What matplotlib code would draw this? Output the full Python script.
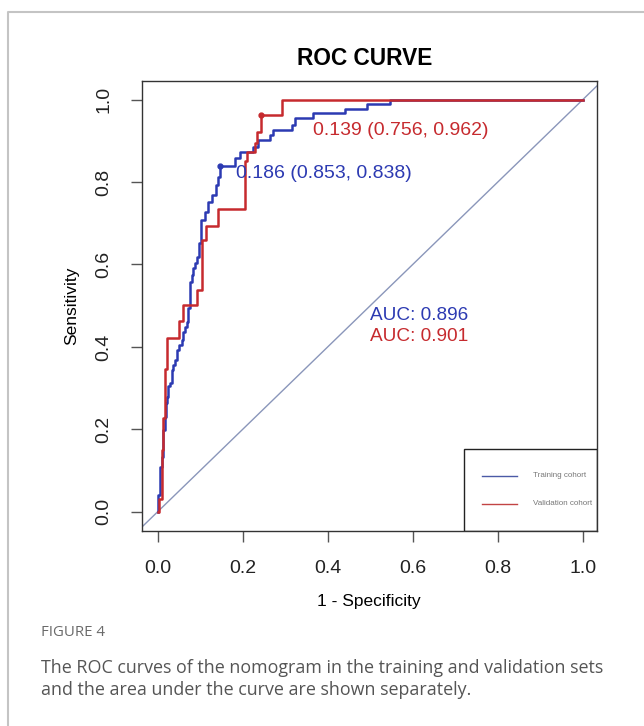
import numpy as np
import matplotlib
matplotlib.use("Agg")
import matplotlib.pyplot as plt
from matplotlib.lines import Line2D
from matplotlib.patches import Rectangle

# ROC step vertices (1 - specificity, sensitivity)
train_fpr = [0.000, 0.000, 0.005, 0.005, 0.009, 0.009, 0.013, 0.013, 0.017, 0.017,
             0.020, 0.020, 0.023, 0.023, 0.025, 0.025, 0.029, 0.029, 0.033, 0.033,
             0.037, 0.037, 0.041, 0.041, 0.045, 0.045, 0.051, 0.051, 0.056, 0.056,
             0.060, 0.060, 0.064, 0.064, 0.070, 0.070, 0.072, 0.072, 0.076, 0.076,
             0.080, 0.080, 0.082, 0.082, 0.088, 0.088, 0.092, 0.092, 0.096, 0.096,
             0.103, 0.103, 0.111, 0.111, 0.119, 0.119, 0.127, 0.127, 0.137, 0.137,
             0.143, 0.143, 0.147, 0.147, 0.182, 0.182, 0.194, 0.194, 0.225, 0.225,
             0.237, 0.237, 0.264, 0.264, 0.272, 0.272, 0.315, 0.315, 0.323, 0.323,
             0.366, 0.366, 0.441, 0.441, 0.492, 0.492, 0.547, 0.547, 1.000]
train_tpr = [0.000, 0.040, 0.040, 0.109, 0.109, 0.133, 0.133, 0.198, 0.198, 0.231,
             0.231, 0.263, 0.263, 0.279, 0.279, 0.304, 0.304, 0.312, 0.312, 0.344,
             0.344, 0.356, 0.356, 0.368, 0.368, 0.393, 0.393, 0.405, 0.405, 0.417,
             0.417, 0.437, 0.437, 0.449, 0.449, 0.461, 0.461, 0.494, 0.494, 0.558,
             0.558, 0.575, 0.575, 0.591, 0.591, 0.603, 0.603, 0.619, 0.619, 0.651,
             0.651, 0.708, 0.708, 0.728, 0.728, 0.752, 0.752, 0.769, 0.769, 0.793,
             0.793, 0.813, 0.813, 0.838, 0.838, 0.858, 0.858, 0.874, 0.874, 0.886,
             0.886, 0.902, 0.902, 0.914, 0.914, 0.927, 0.927, 0.939, 0.939, 0.955,
             0.955, 0.967, 0.967, 0.977, 0.977, 0.990, 0.990, 1.000, 1.000]

valid_fpr = [0.000, 0.003, 0.003, 0.009, 0.009, 0.012, 0.012, 0.016, 0.016, 0.023,
             0.023, 0.051, 0.051, 0.060, 0.060, 0.093, 0.093, 0.105, 0.105, 0.113,
             0.113, 0.141, 0.141, 0.205, 0.205, 0.211, 0.211, 0.229, 0.229, 0.234,
             0.234, 0.244, 0.244, 0.293, 0.293, 1.000]
valid_tpr = [0.000, 0.000, 0.032, 0.032, 0.150, 0.150, 0.227, 0.227, 0.346, 0.346,
             0.422, 0.422, 0.463, 0.463, 0.502, 0.502, 0.538, 0.538, 0.659, 0.659,
             0.694, 0.694, 0.734, 0.734, 0.850, 0.850, 0.874, 0.874, 0.894, 0.894,
             0.922, 0.922, 0.962, 0.962, 1.000, 1.000]

# best thresholds: (threshold, specificity, sensitivity)
train_best = (0.186, 0.853, 0.838)
valid_best = (0.139, 0.756, 0.962)
train_auc = 0.896
valid_auc = 0.901

labels = ["Training cohort", "Validation cohort"]
ticks = [0.0, 0.2, 0.4, 0.6, 0.8, 1.0]

blue = "#2c3ab2"
red = "#c62a2e"

plt.rcParams['font.family'] = ['Liberation Sans', 'DejaVu Sans']

fig = plt.figure(figsize=(6.44, 7.26), dpi=100)
ax = fig.add_axes([0.2200, 0.2690, 0.7066, 0.6195])

ax.set_xlim(-0.0377, 1.0329)
ax.set_ylim(-0.0461, 1.0454)

# chance line
ax.axline((0, 0), (1, 1), color="#8a96ba", lw=1)

ax.plot(train_fpr, train_tpr, color=blue, lw=1.8)
ax.plot(valid_fpr, valid_tpr, color=red, lw=1.8)

# best thresholds
ax.plot(1 - train_best[1], train_best[2], "o", color=blue, ms=3.5)
ax.plot(1 - valid_best[1], valid_best[2], "o", color=red, ms=3.5)
ax.text(1 - train_best[1] + 0.037, train_best[2] - 0.016,
        "%.3f (%.3f, %.3f)" % train_best, color=blue, fontsize=14, va="center")
ax.text(1 - valid_best[1] + 0.122, valid_best[2] - 0.038,
        "%.3f (%.3f, %.3f)" % valid_best, color=red, fontsize=14, va="center")

ax.text(0.50, 0.477, "AUC: %.3f" % train_auc, color=blue, fontsize=13.7, va="center")
ax.text(0.50, 0.424, "AUC: %.3f" % valid_auc, color=red, fontsize=13.7, va="center")

# legend box, bottom right like R's legend()
ax.add_patch(Rectangle((0.7084, 0.0), 0.2916, 0.181, transform=ax.transAxes,
                       fill=False, edgecolor="#222222", lw=1, zorder=5))
for c, lab, yy in zip(["#4b5aa6", "#c24444"], labels, [0.1223, 0.0594]):
    ax.add_line(Line2D([0.747, 0.825], [yy, yy], transform=ax.transAxes, color=c, lw=1))
    ax.text(0.861, yy, lab, transform=ax.transAxes, fontsize=5.8, color="#777777",
            va="center")

ax.set_xticks(ticks)
ax.set_yticks(ticks)
ax.set_xticklabels(["%.1f" % t for t in ticks])
ax.set_yticklabels(["%.1f" % t for t in ticks], rotation=90, va="center")
ax.tick_params(direction="out", length=8, width=1, color="#555555", labelsize=14,
               pad=13, labelcolor="#222222")
for s in ax.spines.values():
    s.set_color("#333333")
    s.set_linewidth(1)

ax.set_xlabel("1 - Specificity", fontsize=12.5, va="center")
ax.set_ylabel("Sensitivity", fontsize=12.5, va="center")
ax.xaxis.set_label_coords(0.5, -0.158)
ax.yaxis.set_label_coords(-0.1536, 0.5)

fig.text(365 / 644, 0.920, "ROC CURVE", fontsize=16.3, fontweight="bold", ha="center",
         va="center")

# card frame and caption
fig.add_artist(Line2D([8 / 644, 8 / 644, 1.0], [0.0, 1 - 12 / 726, 1 - 12 / 726],
                      transform=fig.transFigure, color="#c4c4c4", lw=1.5))
fig.text(41 / 644, 1 - 633 / 726, "FIGURE 4", fontsize=10.8, color="#6a6a6a",
         family=["Open Sans", "DejaVu Sans"], va="center")
fig.text(41 / 644, 1 - 668 / 726,
         "The ROC curves of the nomogram in the training and validation sets",
         fontsize=12.85, color="#555555", family=["Open Sans", "DejaVu Sans"], va="center")
fig.text(41 / 644, 1 - 690 / 726, "and the area under the curve are shown separately.",
         fontsize=12.85, color="#555555", family=["Open Sans", "DejaVu Sans"], va="center")

fig.savefig("out.png", dpi=100)
